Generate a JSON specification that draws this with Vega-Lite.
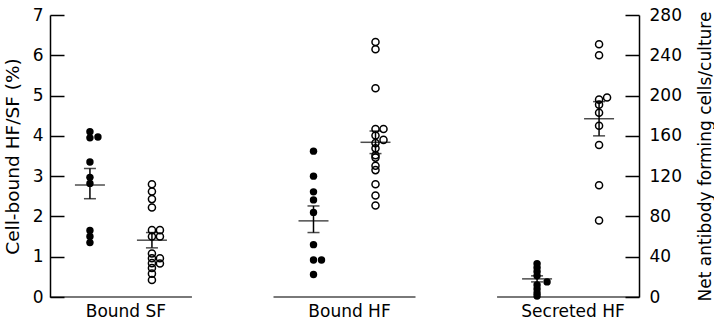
{
  "$schema": "https://vega.github.io/schema/vega-lite/v6.json",
  "width": 589,
  "height": 282,
  "autosize": {"type": "none"},
  "padding": {"left": 50, "top": 15, "right": 75, "bottom": 31},
  "background": "white",
  "config": {
    "view": {"stroke": null},
    "font": "DejaVu Sans",
    "axisY": {"grid": false, "domainColor": "black", "domainWidth": 1.5, "tickColor": "black", "tickWidth": 1.5, "tickSize": -14, "labelFontSize": 17, "labelColor": "black", "titleFontWeight": "normal", "titleColor": "black"},
    "axisLeft": {"labelPadding": 21, "titlePadding": 10, "titleFontSize": 18.5},
    "axisRight": {"labelPadding": 24, "titleAngle": -90, "titlePadding": 33, "titleFontSize": 17},
    "axisX": {"grid": false, "domain": false, "ticks": false, "labelFontSize": 17, "labelPadding": 6, "labelOffset": 5, "labelColor": "black", "labelAngle": 0}
  },
  "datasets": {
    "points": [
      {"group": "Bound SF", "series": "filled", "lane": "c", "value": 4.1},
      {"group": "Bound SF", "series": "filled", "lane": "c", "value": 3.95},
      {"group": "Bound SF", "series": "filled", "lane": "r", "value": 3.97},
      {"group": "Bound SF", "series": "filled", "lane": "c", "value": 3.35},
      {"group": "Bound SF", "series": "filled", "lane": "c", "value": 2.97},
      {"group": "Bound SF", "series": "filled", "lane": "c", "value": 2.82},
      {"group": "Bound SF", "series": "filled", "lane": "c", "value": 1.65},
      {"group": "Bound SF", "series": "filled", "lane": "c", "value": 1.5},
      {"group": "Bound SF", "series": "filled", "lane": "c", "value": 1.35},
      {"group": "Bound SF", "series": "open", "lane": "c", "value": 2.8},
      {"group": "Bound SF", "series": "open", "lane": "c", "value": 2.62},
      {"group": "Bound SF", "series": "open", "lane": "c", "value": 2.43},
      {"group": "Bound SF", "series": "open", "lane": "c", "value": 2.22},
      {"group": "Bound SF", "series": "open", "lane": "c", "value": 1.66},
      {"group": "Bound SF", "series": "open", "lane": "r", "value": 1.66},
      {"group": "Bound SF", "series": "open", "lane": "c", "value": 1.5},
      {"group": "Bound SF", "series": "open", "lane": "r", "value": 1.5},
      {"group": "Bound SF", "series": "open", "lane": "c", "value": 1.08},
      {"group": "Bound SF", "series": "open", "lane": "c", "value": 0.96},
      {"group": "Bound SF", "series": "open", "lane": "r", "value": 0.96},
      {"group": "Bound SF", "series": "open", "lane": "c", "value": 0.84},
      {"group": "Bound SF", "series": "open", "lane": "r", "value": 0.83},
      {"group": "Bound SF", "series": "open", "lane": "c", "value": 0.72},
      {"group": "Bound SF", "series": "open", "lane": "c", "value": 0.58},
      {"group": "Bound SF", "series": "open", "lane": "c", "value": 0.42},
      {"group": "Bound HF", "series": "filled", "lane": "c", "value": 3.62},
      {"group": "Bound HF", "series": "filled", "lane": "c", "value": 3.0},
      {"group": "Bound HF", "series": "filled", "lane": "c", "value": 2.61},
      {"group": "Bound HF", "series": "filled", "lane": "c", "value": 2.41},
      {"group": "Bound HF", "series": "filled", "lane": "c", "value": 2.1},
      {"group": "Bound HF", "series": "filled", "lane": "c", "value": 1.3},
      {"group": "Bound HF", "series": "filled", "lane": "c", "value": 0.92},
      {"group": "Bound HF", "series": "filled", "lane": "r", "value": 0.92},
      {"group": "Bound HF", "series": "filled", "lane": "c", "value": 0.56},
      {"group": "Bound HF", "series": "open", "lane": "c", "value": 6.33},
      {"group": "Bound HF", "series": "open", "lane": "c", "value": 6.15},
      {"group": "Bound HF", "series": "open", "lane": "c", "value": 5.18},
      {"group": "Bound HF", "series": "open", "lane": "c", "value": 4.17},
      {"group": "Bound HF", "series": "open", "lane": "r", "value": 4.17},
      {"group": "Bound HF", "series": "open", "lane": "c", "value": 4.01},
      {"group": "Bound HF", "series": "open", "lane": "r", "value": 3.9},
      {"group": "Bound HF", "series": "open", "lane": "c", "value": 3.82},
      {"group": "Bound HF", "series": "open", "lane": "c", "value": 3.69},
      {"group": "Bound HF", "series": "open", "lane": "c", "value": 3.52},
      {"group": "Bound HF", "series": "open", "lane": "c", "value": 3.46},
      {"group": "Bound HF", "series": "open", "lane": "c", "value": 3.26},
      {"group": "Bound HF", "series": "open", "lane": "c", "value": 3.15},
      {"group": "Bound HF", "series": "open", "lane": "c", "value": 2.8},
      {"group": "Bound HF", "series": "open", "lane": "c", "value": 2.52},
      {"group": "Bound HF", "series": "open", "lane": "c", "value": 2.27},
      {"group": "Secreted HF", "series": "filled", "lane": "c", "value": 33},
      {"group": "Secreted HF", "series": "filled", "lane": "c", "value": 29},
      {"group": "Secreted HF", "series": "filled", "lane": "c", "value": 25},
      {"group": "Secreted HF", "series": "filled", "lane": "c", "value": 21},
      {"group": "Secreted HF", "series": "filled", "lane": "r", "value": 15},
      {"group": "Secreted HF", "series": "filled", "lane": "c", "value": 12},
      {"group": "Secreted HF", "series": "filled", "lane": "c", "value": 8},
      {"group": "Secreted HF", "series": "filled", "lane": "c", "value": 4},
      {"group": "Secreted HF", "series": "filled", "lane": "c", "value": 1},
      {"group": "Secreted HF", "series": "open", "lane": "c", "value": 251},
      {"group": "Secreted HF", "series": "open", "lane": "c", "value": 240},
      {"group": "Secreted HF", "series": "open", "lane": "r", "value": 198},
      {"group": "Secreted HF", "series": "open", "lane": "c", "value": 196},
      {"group": "Secreted HF", "series": "open", "lane": "c", "value": 191},
      {"group": "Secreted HF", "series": "open", "lane": "c", "value": 183},
      {"group": "Secreted HF", "series": "open", "lane": "c", "value": 170},
      {"group": "Secreted HF", "series": "open", "lane": "c", "value": 151},
      {"group": "Secreted HF", "series": "open", "lane": "c", "value": 111},
      {"group": "Secreted HF", "series": "open", "lane": "c", "value": 76}
    ],
    "stats": [
      {"group": "Bound SF", "series": "filled", "mean": 2.78, "lo": 2.44, "hi": 3.19},
      {"group": "Bound SF", "series": "open", "mean": 1.41, "lo": 1.22, "hi": 1.6},
      {"group": "Bound HF", "series": "filled", "mean": 1.89, "lo": 1.6, "hi": 2.26},
      {"group": "Bound HF", "series": "open", "mean": 3.84, "lo": 3.56, "hi": 4.12},
      {"group": "Secreted HF", "series": "filled", "mean": 18, "lo": 15, "hi": 21},
      {"group": "Secreted HF", "series": "open", "mean": 177, "lo": 160, "hi": 194}
    ],
    "groups": [
      {"group": "Bound SF"},
      {"group": "Bound HF"},
      {"group": "Secreted HF"}
    ]
  },
  "encoding": {
    "x": {"field": "group", "type": "nominal", "title": null, "sort": ["Bound SF", "Bound HF", "Secreted HF"],
      "scale": {"domain": ["Bound SF", "Bound HF", "Secreted HF"], "paddingInner": 0.44, "paddingOuter": 0.0373}}
  },
  "layer": [
    {
      "layer": [
        {
          "data": {"name": "groups"},
          "mark": {"type": "tick", "size": 142, "thickness": 1.5, "color": "black"},
          "encoding": {"y": {"datum": 0, "type": "quantitative", "scale": {"domain": [0, 7]}, "axis": {"values": [0, 1, 2, 3, 4, 5, 6, 7], "title": "Cell-bound HF/SF (%)"}}}
        },
        {
          "data": {"name": "points"},
          "transform": [{"filter": "datum.group != 'Secreted HF' && datum.series == 'filled' && datum.lane == 'c'"}],
          "mark": {"type": "point", "shape": "circle", "filled": true, "color": "black", "opacity": 1, "size": 55, "xOffset": -31},
          "encoding": {"y": {"field": "value", "type": "quantitative", "scale": {"domain": [0, 7]}, "axis": {"values": [0, 1, 2, 3, 4, 5, 6, 7], "title": "Cell-bound HF/SF (%)"}}}
        },
        {
          "data": {"name": "points"},
          "transform": [{"filter": "datum.group != 'Secreted HF' && datum.series == 'filled' && datum.lane == 'r'"}],
          "mark": {"type": "point", "shape": "circle", "filled": true, "color": "black", "opacity": 1, "size": 55, "xOffset": -23},
          "encoding": {"y": {"field": "value", "type": "quantitative", "scale": {"domain": [0, 7]}, "axis": {"values": [0, 1, 2, 3, 4, 5, 6, 7], "title": "Cell-bound HF/SF (%)"}}}
        },
        {
          "data": {"name": "points"},
          "transform": [{"filter": "datum.group != 'Secreted HF' && datum.series == 'open' && datum.lane == 'c'"}],
          "mark": {"type": "point", "shape": "circle", "filled": false, "stroke": "black", "strokeWidth": 1.5, "opacity": 1, "size": 50, "xOffset": 31},
          "encoding": {"y": {"field": "value", "type": "quantitative", "scale": {"domain": [0, 7]}, "axis": {"values": [0, 1, 2, 3, 4, 5, 6, 7], "title": "Cell-bound HF/SF (%)"}}}
        },
        {
          "data": {"name": "points"},
          "transform": [{"filter": "datum.group != 'Secreted HF' && datum.series == 'open' && datum.lane == 'r'"}],
          "mark": {"type": "point", "shape": "circle", "filled": false, "stroke": "black", "strokeWidth": 1.5, "opacity": 1, "size": 50, "xOffset": 39},
          "encoding": {"y": {"field": "value", "type": "quantitative", "scale": {"domain": [0, 7]}, "axis": {"values": [0, 1, 2, 3, 4, 5, 6, 7], "title": "Cell-bound HF/SF (%)"}}}
        },
        {
          "data": {"name": "stats"},
          "transform": [{"filter": "datum.group != 'Secreted HF' && datum.series == 'filled'"}],
          "mark": {"type": "tick", "size": 30, "thickness": 1.5, "color": "black", "xOffset": -31},
          "encoding": {"y": {"field": "mean", "type": "quantitative", "scale": {"domain": [0, 7]}, "axis": {"values": [0, 1, 2, 3, 4, 5, 6, 7], "title": "Cell-bound HF/SF (%)"}}}
        },
        {
          "data": {"name": "stats"},
          "transform": [{"filter": "datum.group != 'Secreted HF' && datum.series == 'filled'"}],
          "mark": {"type": "rule", "strokeWidth": 1.5, "color": "black", "xOffset": -31},
          "encoding": {"y": {"field": "lo", "type": "quantitative", "scale": {"domain": [0, 7]}, "axis": {"values": [0, 1, 2, 3, 4, 5, 6, 7], "title": "Cell-bound HF/SF (%)"}}, "y2": {"field": "hi"}}
        },
        {
          "data": {"name": "stats"},
          "transform": [{"filter": "datum.group != 'Secreted HF' && datum.series == 'filled'"}, {"fold": ["lo", "hi"], "as": ["bound", "cap"]}],
          "mark": {"type": "tick", "size": 12, "thickness": 1.5, "color": "black", "xOffset": -31},
          "encoding": {"y": {"field": "cap", "type": "quantitative", "scale": {"domain": [0, 7]}, "axis": {"values": [0, 1, 2, 3, 4, 5, 6, 7], "title": "Cell-bound HF/SF (%)"}}}
        },
        {
          "data": {"name": "stats"},
          "transform": [{"filter": "datum.group != 'Secreted HF' && datum.series == 'open'"}],
          "mark": {"type": "tick", "size": 30, "thickness": 1.5, "color": "black", "xOffset": 31},
          "encoding": {"y": {"field": "mean", "type": "quantitative", "scale": {"domain": [0, 7]}, "axis": {"values": [0, 1, 2, 3, 4, 5, 6, 7], "title": "Cell-bound HF/SF (%)"}}}
        },
        {
          "data": {"name": "stats"},
          "transform": [{"filter": "datum.group != 'Secreted HF' && datum.series == 'open'"}],
          "mark": {"type": "rule", "strokeWidth": 1.5, "color": "black", "xOffset": 31},
          "encoding": {"y": {"field": "lo", "type": "quantitative", "scale": {"domain": [0, 7]}, "axis": {"values": [0, 1, 2, 3, 4, 5, 6, 7], "title": "Cell-bound HF/SF (%)"}}, "y2": {"field": "hi"}}
        },
        {
          "data": {"name": "stats"},
          "transform": [{"filter": "datum.group != 'Secreted HF' && datum.series == 'open'"}, {"fold": ["lo", "hi"], "as": ["bound", "cap"]}],
          "mark": {"type": "tick", "size": 12, "thickness": 1.5, "color": "black", "xOffset": 31},
          "encoding": {"y": {"field": "cap", "type": "quantitative", "scale": {"domain": [0, 7]}, "axis": {"values": [0, 1, 2, 3, 4, 5, 6, 7], "title": "Cell-bound HF/SF (%)"}}}
        }
      ]
    },
    {
      "layer": [
        {
          "data": {"name": "points"},
          "transform": [{"filter": "datum.group == 'Secreted HF' && datum.series == 'filled' && datum.lane == 'c'"}],
          "mark": {"type": "point", "shape": "circle", "filled": true, "color": "black", "opacity": 1, "size": 55, "xOffset": -31},
          "encoding": {"y": {"field": "value", "type": "quantitative", "scale": {"domain": [0, 280]}, "axis": {"orient": "right", "values": [0, 40, 80, 120, 160, 200, 240, 280], "title": "Net antibody forming cells/culture"}}}
        },
        {
          "data": {"name": "points"},
          "transform": [{"filter": "datum.group == 'Secreted HF' && datum.series == 'filled' && datum.lane == 'r'"}],
          "mark": {"type": "point", "shape": "circle", "filled": true, "color": "black", "opacity": 1, "size": 55, "xOffset": -21},
          "encoding": {"y": {"field": "value", "type": "quantitative", "scale": {"domain": [0, 280]}, "axis": {"orient": "right", "values": [0, 40, 80, 120, 160, 200, 240, 280], "title": "Net antibody forming cells/culture"}}}
        },
        {
          "data": {"name": "points"},
          "transform": [{"filter": "datum.group == 'Secreted HF' && datum.series == 'open' && datum.lane == 'c'"}],
          "mark": {"type": "point", "shape": "circle", "filled": false, "stroke": "black", "strokeWidth": 1.5, "opacity": 1, "size": 50, "xOffset": 31},
          "encoding": {"y": {"field": "value", "type": "quantitative", "scale": {"domain": [0, 280]}, "axis": {"orient": "right", "values": [0, 40, 80, 120, 160, 200, 240, 280], "title": "Net antibody forming cells/culture"}}}
        },
        {
          "data": {"name": "points"},
          "transform": [{"filter": "datum.group == 'Secreted HF' && datum.series == 'open' && datum.lane == 'r'"}],
          "mark": {"type": "point", "shape": "circle", "filled": false, "stroke": "black", "strokeWidth": 1.5, "opacity": 1, "size": 50, "xOffset": 39},
          "encoding": {"y": {"field": "value", "type": "quantitative", "scale": {"domain": [0, 280]}, "axis": {"orient": "right", "values": [0, 40, 80, 120, 160, 200, 240, 280], "title": "Net antibody forming cells/culture"}}}
        },
        {
          "data": {"name": "stats"},
          "transform": [{"filter": "datum.group == 'Secreted HF' && datum.series == 'filled'"}],
          "mark": {"type": "tick", "size": 30, "thickness": 1.5, "color": "black", "xOffset": -31},
          "encoding": {"y": {"field": "mean", "type": "quantitative", "scale": {"domain": [0, 280]}, "axis": {"orient": "right", "values": [0, 40, 80, 120, 160, 200, 240, 280], "title": "Net antibody forming cells/culture"}}}
        },
        {
          "data": {"name": "stats"},
          "transform": [{"filter": "datum.group == 'Secreted HF' && datum.series == 'filled'"}],
          "mark": {"type": "rule", "strokeWidth": 1.5, "color": "black", "xOffset": -31},
          "encoding": {"y": {"field": "lo", "type": "quantitative", "scale": {"domain": [0, 280]}, "axis": {"orient": "right", "values": [0, 40, 80, 120, 160, 200, 240, 280], "title": "Net antibody forming cells/culture"}}, "y2": {"field": "hi"}}
        },
        {
          "data": {"name": "stats"},
          "transform": [{"filter": "datum.group == 'Secreted HF' && datum.series == 'filled'"}, {"fold": ["lo", "hi"], "as": ["bound", "cap"]}],
          "mark": {"type": "tick", "size": 12, "thickness": 1.5, "color": "black", "xOffset": -31},
          "encoding": {"y": {"field": "cap", "type": "quantitative", "scale": {"domain": [0, 280]}, "axis": {"orient": "right", "values": [0, 40, 80, 120, 160, 200, 240, 280], "title": "Net antibody forming cells/culture"}}}
        },
        {
          "data": {"name": "stats"},
          "transform": [{"filter": "datum.group == 'Secreted HF' && datum.series == 'open'"}],
          "mark": {"type": "tick", "size": 30, "thickness": 1.5, "color": "black", "xOffset": 31},
          "encoding": {"y": {"field": "mean", "type": "quantitative", "scale": {"domain": [0, 280]}, "axis": {"orient": "right", "values": [0, 40, 80, 120, 160, 200, 240, 280], "title": "Net antibody forming cells/culture"}}}
        },
        {
          "data": {"name": "stats"},
          "transform": [{"filter": "datum.group == 'Secreted HF' && datum.series == 'open'"}],
          "mark": {"type": "rule", "strokeWidth": 1.5, "color": "black", "xOffset": 31},
          "encoding": {"y": {"field": "lo", "type": "quantitative", "scale": {"domain": [0, 280]}, "axis": {"orient": "right", "values": [0, 40, 80, 120, 160, 200, 240, 280], "title": "Net antibody forming cells/culture"}}, "y2": {"field": "hi"}}
        },
        {
          "data": {"name": "stats"},
          "transform": [{"filter": "datum.group == 'Secreted HF' && datum.series == 'open'"}, {"fold": ["lo", "hi"], "as": ["bound", "cap"]}],
          "mark": {"type": "tick", "size": 12, "thickness": 1.5, "color": "black", "xOffset": 31},
          "encoding": {"y": {"field": "cap", "type": "quantitative", "scale": {"domain": [0, 280]}, "axis": {"orient": "right", "values": [0, 40, 80, 120, 160, 200, 240, 280], "title": "Net antibody forming cells/culture"}}}
        }
      ]
    }
  ],
  "resolve": {"scale": {"y": "independent"}, "axis": {"y": "independent"}}
}
